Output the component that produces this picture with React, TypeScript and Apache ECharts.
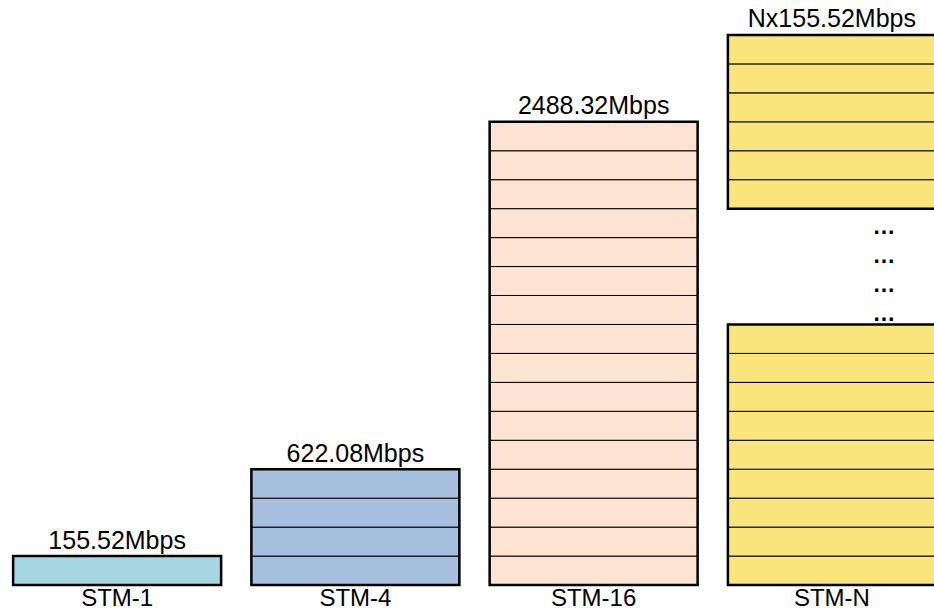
import React, { useEffect, useRef } from 'react';
import * as echarts from 'echarts';

const categories = ['STM-1', 'STM-4', 'STM-16', 'STM-N'];
const rateLabels = ['155.52Mbps', '622.08Mbps', '2488.32Mbps', 'Nx155.52Mbps'];
const blockCounts = [1, 4, 16, 19];
const gapBlocks: number[][] = [[], [], [], [9, 10, 11, 12]];
const gapMark = '…';
const colors = ['#A6D6E1', '#A7BFDF', '#FDE4D2', '#F9E57B'];

const FONT = '"Liberation Sans", Arial, sans-serif';

export default function App() {
  const ref = useRef<HTMLDivElement>(null);
  useEffect(() => {
    const chart = echarts.init(ref.current!, null, { renderer: 'svg' });
    const blockData: number[][] = [];
    categories.forEach((_c, ci) => {
      for (let l = 0; l < blockCounts[ci]; l++) {
        blockData.push([ci, l, gapBlocks[ci].includes(l) ? 1 : 0]);
      }
    });
    const segData: number[][] = [];
    categories.forEach((_c, ci) => {
      let start: number | null = null;
      for (let l = 0; l <= blockCounts[ci]; l++) {
        const filled = l < blockCounts[ci] && !gapBlocks[ci].includes(l);
        if (filled && start === null) start = l;
        if (!filled && start !== null) {
          segData.push([ci, start, l]);
          start = null;
        }
      }
    });
    const BAR = 0.873;
    chart.setOption({
      animation: false,
      grid: {
        left: -2,
        width: 953,
        top: 6,
        bottom: 27,
        containLabel: false,
        outerBoundsMode: 'none',
      },
      xAxis: {
        type: 'category',
        data: categories,
        axisLine: { show: false },
        axisTick: { show: false },
        splitLine: { show: false },
        axisLabel: { color: '#000', fontSize: 24, fontFamily: FONT, margin: 0 },
      },
      yAxis: { type: 'value', min: 0, max: 20, show: false },
      series: [
        {
          type: 'custom',
          data: blockData,
          renderItem: (_params: any, api: any) => {
            const ci = api.value(0);
            const l = api.value(1);
            const gap = api.value(2);
            const p0 = api.coord([ci, l]);
            const p1 = api.coord([ci, l + 1]);
            const w = api.size([1, 0])[0] * BAR;
            if (gap) {
              return {
                type: 'text',
                x: p0[0] + 52,
                y: (p0[1] + p1[1]) / 2 + 3,
                style: {
                  text: gapMark,
                  fill: '#000',
                  font: 'bold 23px ' + FONT,
                  align: 'center',
                  verticalAlign: 'middle',
                },
              };
            }
            return {
              type: 'rect',
              shape: { x: p0[0] - w / 2, y: p1[1], width: w, height: p0[1] - p1[1] },
              style: { fill: colors[ci], stroke: '#000', lineWidth: 1 },
            };
          },
        },
        {
          type: 'custom',
          data: segData,
          renderItem: (_params: any, api: any) => {
            const ci = api.value(0);
            const p0 = api.coord([ci, api.value(1)]);
            const p1 = api.coord([ci, api.value(2)]);
            const w = api.size([1, 0])[0] * BAR;
            return {
              type: 'rect',
              shape: { x: p0[0] - w / 2, y: p1[1], width: w, height: p0[1] - p1[1] },
              style: { fill: 'none', stroke: '#000', lineWidth: 2.5 },
            };
          },
        },
        {
          type: 'scatter',
          data: blockCounts.map((v, i) => [i, v]),
          symbolSize: 0,
          silent: true,
          itemStyle: { opacity: 1 },
          label: {
            show: true,
            position: 'top',
            distance: 4,
            formatter: (p: any) => rateLabels[p.dataIndex],
            fontSize: 25,
            fontFamily: FONT,
            color: '#000',
            opacity: 1,
          },
        },
      ],
    });
    return () => chart.dispose();
  }, []);
  return (
    <div
      ref={ref}
      style={{ position: 'fixed', left: 0, top: 0, width: 934, height: 612, background: '#fff' }}
    />
  );
}
